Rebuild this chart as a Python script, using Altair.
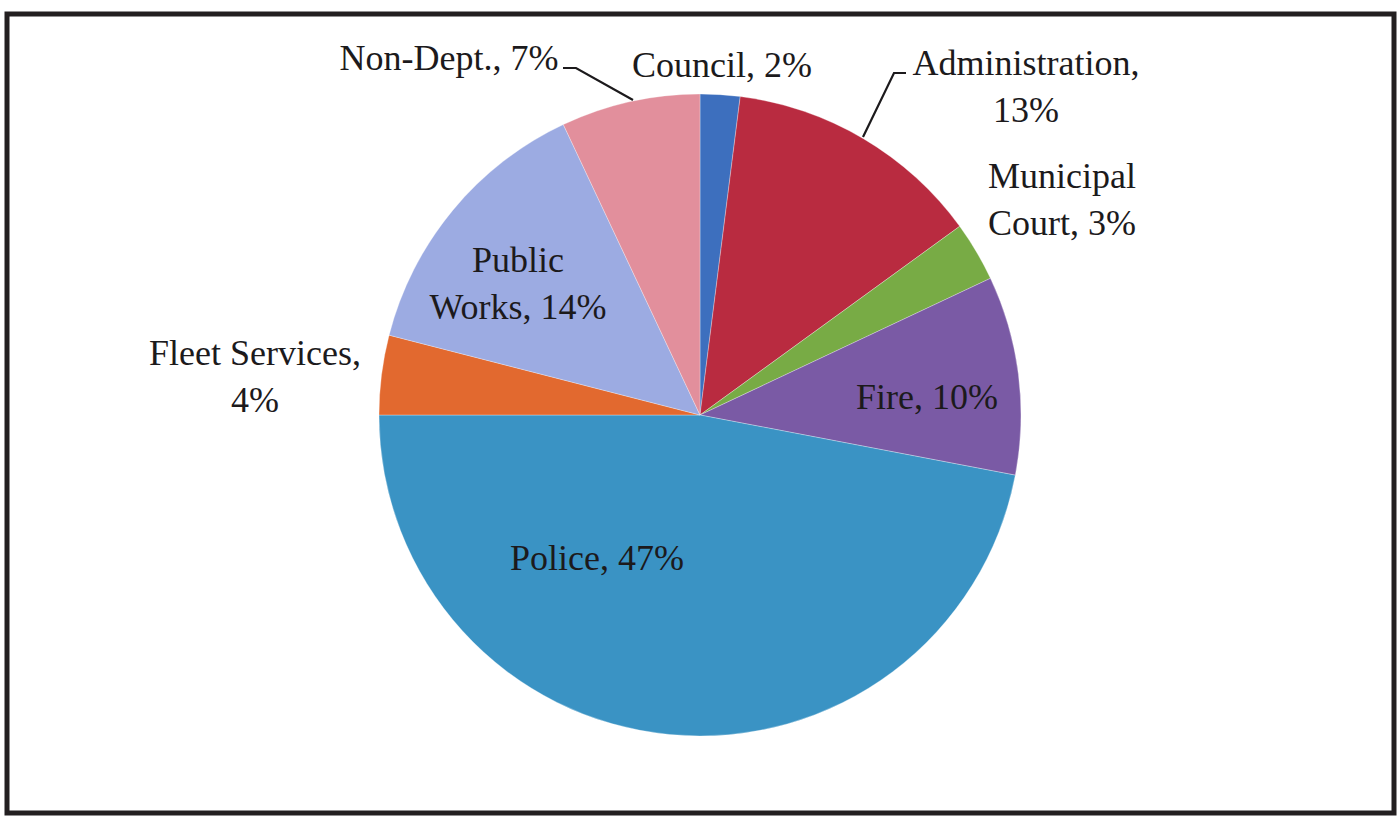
import altair as alt
import pandas as pd

# ---- data ----
departments = ["Council", "Administration", "Municipal Court", "Fire",
               "Police", "Fleet Services", "Public Works", "Non-Dept."]
shares = [2, 13, 3, 10, 47, 4, 14, 7]
colors = ["#3d6fbe", "#b92b40", "#78ab45", "#7a5aa5",
          "#3a93c4", "#e2692f", "#9cabe2", "#e28f9c"]

# ---- label layout (pixel positions on the 1398x816 canvas) ----
label_text = [
    "Council, 2%",
    "Administration,|13%",
    "Municipal|Court, 3%",
    "Fire, 10%",
    "Police, 47%",
    "Fleet Services,|4%",
    "Public|Works, 14%",
    "Non-Dept., 7%",
]
label_x = [722, 1026, 1062, 927, 597, 255, 518, 449]
label_y = [77, 75, 188, 409, 570, 365, 272, 70]

leader_group = ["Non-Dept.", "Non-Dept.", "Non-Dept.",
                "Administration", "Administration", "Administration"]
leader_x = [563, 576, 633, 906, 894, 863]
leader_y = [68, 68, 100, 73, 73, 137]

CX, CY, R = 700, 415, 321
W, H = 1398, 816
FONT = "Liberation Serif"

pie_df = pd.DataFrame({"dept": departments, "share": shares,
                       "order": list(range(len(departments)))})
lab_df = pd.DataFrame({"dept": departments, "label": label_text,
                       "lx": label_x, "ly": label_y})
lead_df = pd.DataFrame({"g": leader_group, "x": leader_x, "y": leader_y,
                        "i": list(range(len(leader_x)))})

border = alt.Chart(pd.DataFrame({"a": [0]})).mark_rect(
    fill="white", stroke="#231f20", strokeWidth=5
).encode(x=alt.value(7), x2=alt.value(1394), y=alt.value(14), y2=alt.value(813))

pie = alt.Chart(pie_df).mark_arc(radius=R, stroke="#ffffff", strokeWidth=0.6, strokeOpacity=0.5).encode(
    theta=alt.Theta("share:Q", stack=True),
    color=alt.Color("dept:N", scale=alt.Scale(domain=departments, range=colors), legend=None),
    order=alt.Order("order:Q"),
    x=alt.value(CX),
    y=alt.value(CY),
)

labels = alt.Chart(lab_df).mark_text(
    font=FONT, fontSize=36, lineHeight=47, align="center", lineBreak="|",
    baseline="alphabetic", color="#1c1a1c"
).encode(
    x=alt.X("lx:Q", scale=None),
    y=alt.Y("ly:Q", scale=None),
    text=alt.Text("label:N"),
)

leaders = alt.Chart(lead_df).mark_line(color="#1c1a1c", strokeWidth=2.2).encode(
    x=alt.X("x:Q", scale=None),
    y=alt.Y("y:Q", scale=None),
    detail="g:N",
    order="i:Q",
)

chart = alt.layer(border, pie, leaders, labels).properties(
    width=W, height=H,
    autosize=alt.AutoSizeParams(type="none"),
    padding=0,
    background="white",
).configure_view(stroke=None)

chart.save("out.html", embed_options={"renderer": "svg", "actions": False})
